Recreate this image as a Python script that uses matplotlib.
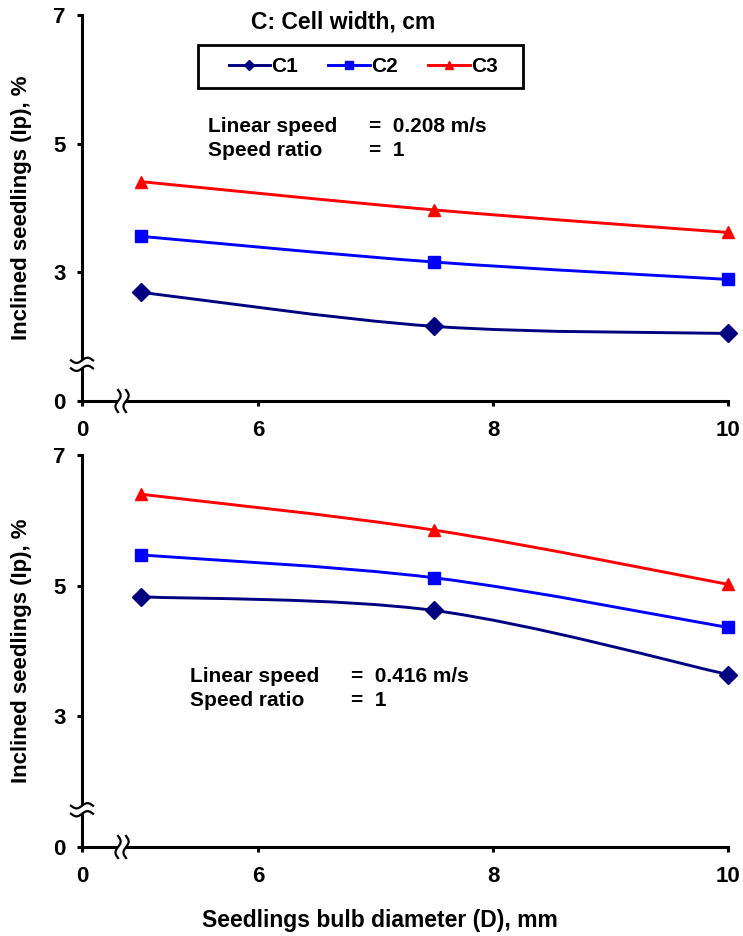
import numpy as np
import matplotlib
matplotlib.use("Agg")
import matplotlib.pyplot as plt
import matplotlib.transforms as mtransforms
from matplotlib.path import Path
from matplotlib.patches import PathPatch, Rectangle, Polygon
from matplotlib.lines import Line2D

plt.rcParams["font.family"] = ["Liberation Sans", "DejaVu Sans"]
plt.rcParams["font.weight"] = "bold"

# seedlings bulb diameter, mm
diameter = [5.0, 7.5, 10.0]

# inclined seedlings Ip (%) at linear speed 0.208 m/s
c1_slow = [2.69, 2.16, 2.05]
c2_slow = [3.56, 3.16, 2.89]
c3_slow = [4.41, 3.97, 3.62]

# inclined seedlings Ip (%) at linear speed 0.416 m/s
c1_fast = [4.83, 4.62, 3.64]
c2_fast = [5.47, 5.12, 4.36]
c3_fast = [6.40, 5.85, 5.02]

series_names = ["C1", "C2", "C3"]
series_colors = ["#000080", "#0000FF", "#FF0000"]
series_markers = ["D", "s", "^"]
marker_sizes = [9.5, 8.5, 8.5]

# broken axes: the lowest tick stands for 0
x_ticks = [4.5, 6, 8, 10]
x_ticklabels = ["0", "6", "8", "10"]
y_ticks = [1, 3, 5, 7]
y_ticklabels = ["0", "3", "5", "7"]

W, H = 743, 936


def smooth_path(x, y):
    """Excel-like smoothed line: Catmull-Rom segments as cubic Beziers."""
    p = np.column_stack([x, y]).astype(float)
    ext = np.vstack([p[0], p, p[-1]])
    verts = [p[0]]
    codes = [Path.MOVETO]
    for i in range(len(p) - 1):
        p0, p1, p2, p3 = ext[i], ext[i + 1], ext[i + 2], ext[i + 3]
        verts += [p1 + (p2 - p0) / 6, p2 - (p3 - p1) / 6, p2]
        codes += [Path.CURVE4] * 3
    return Path(verts, codes)


def axis_break(ax, xa, ya, on_y):
    t = np.linspace(-1, 1, 40)
    u = t * 11
    v = 2.6 * np.sin(np.pi * t)
    gap = 4.0
    if on_y:
        up = np.column_stack([u, v + gap])
        lo = np.column_stack([u, v - gap])
    else:
        up = np.column_stack([v + gap, u])
        lo = np.column_stack([v - gap, u])
    trans = mtransforms.Affine2D() + mtransforms.ScaledTranslation(xa, ya, ax.transAxes)
    fill = Polygon(np.vstack([up, lo[::-1]]), closed=True, fc="white", ec="none",
                   transform=trans, clip_on=False, zorder=10)
    ax.add_artist(fill)
    for seg in (up, lo):
        ax.add_artist(Line2D(seg[:, 0], seg[:, 1], color="black", lw=1.6,
                             transform=trans, clip_on=False, zorder=11))


def draw_panel(ax, ys):
    for vals, name, col, mk, ms in zip(ys, series_names, series_colors,
                                       series_markers, marker_sizes):
        ax.add_patch(PathPatch(smooth_path(diameter, vals), fc="none", ec=col,
                               lw=2.1, clip_on=False, zorder=3))
        ax.plot(diameter, vals, linestyle="none", marker=mk, ms=ms, color=col,
                clip_on=False, zorder=4)
    ax.set_xlim(4.5, 10)
    ax.set_ylim(1, 7)
    ax.set_xticks(x_ticks)
    ax.set_xticklabels(x_ticklabels)
    ax.set_yticks(y_ticks)
    ax.set_yticklabels(y_ticklabels)
    for s in ("top", "right"):
        ax.spines[s].set_visible(False)
    for s in ("left", "bottom"):
        ax.spines[s].set_linewidth(2.2)
    ax.tick_params(axis="both", width=2.2, length=3.5, labelsize=16)
    ax.tick_params(axis="x", pad=10)
    ax.tick_params(axis="y", pad=8.5)
    ax.set_ylabel("Inclined seedlings (Ip), %", fontsize=16, fontweight="bold")
    ax.yaxis.set_label_coords(-0.077, 0.5)
    axis_break(ax, 0, 0.095, True)
    axis_break(ax, 0.062, 0, False)


fig = plt.figure(figsize=(W / 100, H / 100), dpi=100)
ax1 = fig.add_axes([82 / W, 1 - 401 / H, 646 / W, 386 / H])
ax2 = fig.add_axes([82 / W, 1 - 847 / H, 646 / W, 392 / H])

draw_panel(ax1, [c1_slow, c2_slow, c3_slow])
draw_panel(ax2, [c1_fast, c2_fast, c3_fast])

# legend with its own frame
handles = [Line2D([], [], color=c, marker=m, ms=5.5, lw=2.1)
           for c, m in zip(series_colors, series_markers)]
fig.legend(handles, series_names, loc="center", bbox_to_anchor=(363 / W, 1 - 67 / H),
           ncol=3, frameon=False, fontsize=15, handlelength=2.0, handletextpad=0.05,
           columnspacing=1.45)
fig.add_artist(Rectangle((198 / W, 1 - 88 / H), 325 / W, 43 / H, transform=fig.transFigure,
                         fill=False, ec="black", lw=2.0))
fig.text(343 / W, 1 - 22 / H, "C: Cell width, cm", ha="center", va="center", fontsize=16.5)

# operating conditions
fig.text(208 / W, 1 - 127 / H, "Linear speed", va="center", fontsize=15)
fig.text(208 / W, 1 - 151 / H, "Speed ratio", va="center", fontsize=15)
fig.text(369 / W, 1 - 127 / H, "=  0.208 m/s", va="center", fontsize=15)
fig.text(369 / W, 1 - 151 / H, "=  1", va="center", fontsize=15)

fig.text(190 / W, 1 - 677 / H, "Linear speed", va="center", fontsize=15)
fig.text(190 / W, 1 - 701 / H, "Speed ratio", va="center", fontsize=15)
fig.text(351 / W, 1 - 677 / H, "=  0.416 m/s", va="center", fontsize=15)
fig.text(351 / W, 1 - 701 / H, "=  1", va="center", fontsize=15)

fig.text(380 / W, 1 - 920 / H, "Seedlings bulb diameter (D), mm", ha="center", va="center",
         fontsize=16.5)

fig.savefig("out.png", dpi=100)
